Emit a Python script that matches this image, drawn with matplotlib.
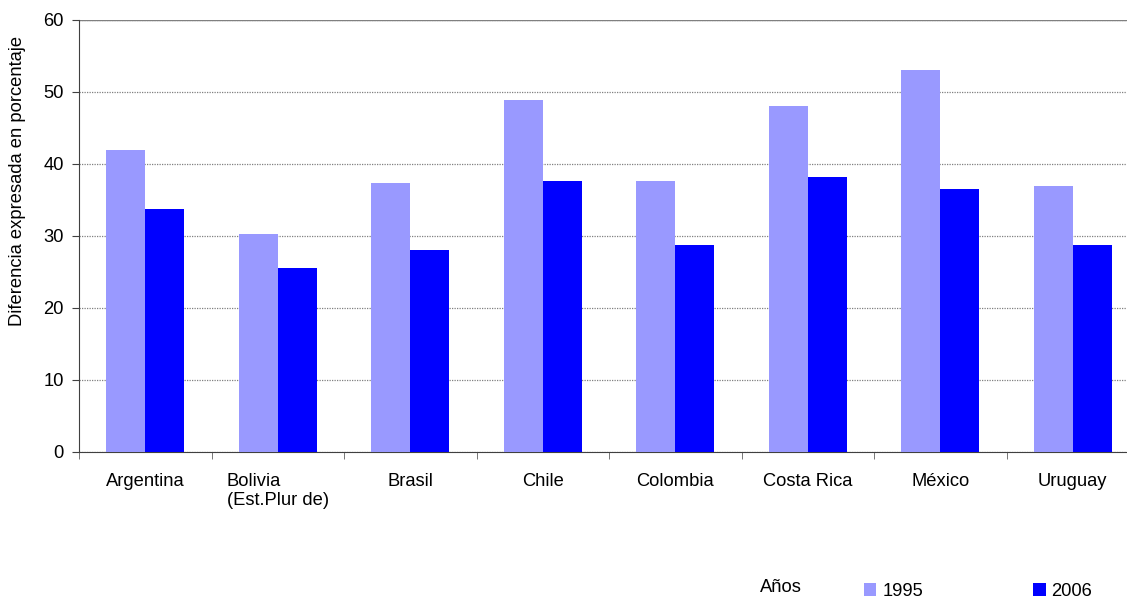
import matplotlib
matplotlib.use("Agg")
import matplotlib.pyplot as plt
import numpy as np

categories = ["Argentina", "Bolivia\n(Est.Plur de)", "Brasil", "Chile", "Colombia",
              "Costa Rica", "México", "Uruguay"]
series_names = ["1995", "2006"]
values_1995 = [42.0, 30.3, 37.3, 48.9, 37.7, 48.1, 53.1, 37.0]
values_2006 = [33.7, 25.5, 28.0, 37.7, 28.7, 38.2, 36.5, 28.7]
colors = ["#9999FF", "#0000FF"]
yticks = [0, 10, 20, 30, 40, 50, 60]

plt.rcParams['font.family'] = ['Liberation Sans', 'DejaVu Sans']
FS = 13.2

W, H = 1127, 598
fig = plt.figure(figsize=(W / 100, H / 100), dpi=100)
ax = fig.add_axes([79 / W, 1 - 452 / H, 1060 / W, 432 / H])

x = np.arange(len(categories))
w = 0.295
b1 = ax.bar(x - w / 2, values_1995, w, color=colors[0], label=series_names[0], zorder=3)
b2 = ax.bar(x + w / 2, values_2006, w, color=colors[1], label=series_names[1], zorder=3)

ax.set_xlim(-0.5, len(categories) - 0.5)
ax.set_ylim(0, 60)
ax.set_yticks(yticks)
ax.set_yticklabels([str(t) for t in yticks], fontsize=FS)
ax.set_xticks(x)
ax.set_xticklabels(categories, fontsize=FS, va='top', ha='center', multialignment='left')
ax.tick_params(axis='x', which='major', length=0, pad=15)
ax.set_xticks(np.arange(-0.5, len(categories), 1.0), minor=True)
ax.tick_params(axis='x', which='minor', length=5, direction='out', color='#606060')
ax.tick_params(axis='y', length=5, direction='out', color='#404040', pad=6)

ax.yaxis.grid(True, linestyle=(0, (1, 1)), color='#808080', linewidth=0.9, zorder=0)
ax.axhline(60, color='#808080', linewidth=1.0, zorder=2)

for s in ['top', 'right']:
    ax.spines[s].set_visible(False)
ax.spines['left'].set_color('#404040')
ax.spines['bottom'].set_color('#404040')

fig.text(18 / W, 1 - 181 / H, "Diferencia expresada en porcentaje", fontsize=FS,
         rotation=90, ha='center', va='center')

fig.text(760 / W, 1 - 587 / H, "Años", fontsize=FS, ha='left', va='center')
fig.legend(handles=[b1, b2], labels=series_names, loc='lower left',
           bbox_to_anchor=(864 / W, -0.003), ncol=2, frameon=False, fontsize=FS,
           borderpad=0, borderaxespad=0,
           handlelength=0.68, handleheight=0.68, handletextpad=0.32, columnspacing=6.0)

fig.savefig("out.png", dpi=100)
